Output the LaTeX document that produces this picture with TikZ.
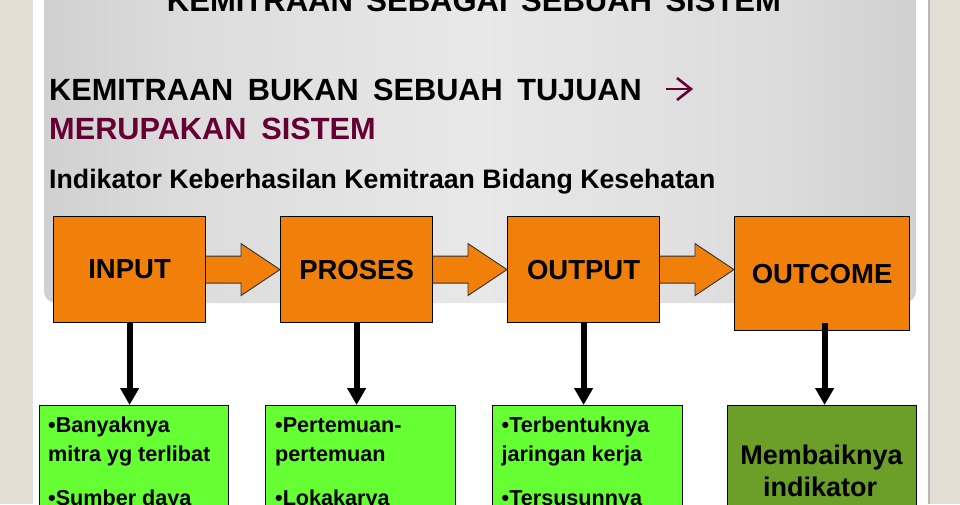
\documentclass[tikz,border=0pt]{standalone}
\usepackage{fontspec}
\setmainfont{Liberation Sans}
\usetikzlibrary{arrows.meta,calc}
\definecolor{beige}{RGB}{227,222,212}
\definecolor{maroon}{RGB}{102,0,51}
\definecolor{boxorange}{RGB}{240,128,10}
\definecolor{boxgreen}{RGB}{102,255,51}
\definecolor{boxolive}{RGB}{107,159,39}
\definecolor{pg0}{RGB}{168,168,168}
\definecolor{pg1}{RGB}{192,192,192}
\definecolor{pg2}{RGB}{220,220,220}
\definecolor{pg3}{RGB}{232,232,232}
\pgfdeclarehorizontalshading{panelshade}{100bp}{color(0bp)=(pg0); color(14bp)=(pg1); color(33bp)=(pg2); color(50bp)=(pg3); color(67bp)=(pg2); color(86bp)=(pg1); color(100bp)=(pg0)}
\newcommand\blockarr[2]{\path[barrow] ([yshift=13.5pt]#1) -- ([xshift=-39pt,yshift=13.5pt]#2) -- ([xshift=-39pt,yshift=26pt]#2) -- (#2) -- ([xshift=-39pt,yshift=-26pt]#2) -- ([xshift=-39pt,yshift=-13.5pt]#2) -- ([yshift=-13.5pt]#1);}
\begin{document}
\begin{tikzpicture}[x=1pt,y=-1pt,
  obox/.style={draw=black, line width=1.2pt, fill=boxorange, inner sep=0pt,
    font=\fontsize{27.5}{30}\selectfont\bfseries, anchor=north west},
  gbox/.style={draw=black, line width=1.2pt, fill=boxgreen, inner sep=0pt, anchor=north west},
  txt/.style={inner sep=0pt, anchor=base west},
  gtxt/.style={txt, font=\fontsize{21.6}{26}\selectfont\bfseries},
  barrow/.style={fill=boxorange, draw=black!80, line width=0.9pt, line join=miter},
  darrow/.style={draw=black, line width=6pt, -{Triangle[width=18pt,length=17pt]}}]
\useasboundingbox (0,0) rectangle (960,504);
\clip (0,0) rectangle (960,504);
% slide background
\fill[beige] (0,0) rectangle (960,504);
\fill[white] (33,0) rectangle (928,504);
\fill[black!12] (32,0) rectangle (33,504);
\fill[black!28] (928,0) rectangle (930,504);
% title panel
\shade[shading=panelshade, rounded corners=12pt] (44,-30) rectangle (916,303);
% titles
\node[txt, anchor=base, font=\fontsize{31}{34}\selectfont\bfseries] (t0) at (474,11)
  {\spaceskip=13.5pt\relax KEMITRAAN SEBAGAI SEBUAH SISTEM};
\node[txt, font=\fontsize{30.7}{34}\selectfont\bfseries] (t1) at (49,100)
  {\spaceskip=14.5pt\relax KEMITRAAN BUKAN SEBUAH TUJUAN};
\draw[maroon, line width=2.6pt] (666,89) -- (691,89);
\draw[maroon, line width=2.6pt, line join=miter] (677,78) -- (691,89) -- (677,100);
\node[txt, text=maroon, font=\fontsize{30.7}{34}\selectfont\bfseries] (t2) at (49,139)
  {\spaceskip=15pt\relax MERUPAKAN SISTEM};
\node[txt, font=\fontsize{26.7}{30}\selectfont\bfseries] (t3) at (49,188)
  {Indikator Keberhasilan Kemitraan Bidang Kesehatan};
% orange boxes
\node[obox, minimum width=152pt, minimum height=106pt] (inp) at (53,216) {INPUT};
\node[obox, minimum width=152pt, minimum height=106pt] (proc) at (280,216) {PROSES};
\node[obox, minimum width=152pt, minimum height=106pt] (outp) at (507,216) {OUTPUT};
\node[obox, minimum width=175pt, minimum height=114pt] (outc) at (734,216) {OUTCOME};
% block arrows
\coordinate (tip1) at (inp.east -| proc.west);
\coordinate (tip2) at (proc.east -| outp.west);
\coordinate (tip3) at (outp.east -| outc.west);
\blockarr{inp.east}{tip1}
\blockarr{proc.east}{tip2}
\blockarr{outp.east}{tip3}
% green boxes
\node[gbox, minimum width=189.5pt, minimum height=130pt] (g1) at (38.5,405) {};
\node[gbox, minimum width=190pt, minimum height=130pt] (g2) at (265,405) {};
\node[gbox, minimum width=190pt, minimum height=130pt] (g3) at (492,405) {};
\node[gbox, fill=boxolive, minimum width=189pt, minimum height=130pt] (g4) at (727,405) {};
% down arrows
\draw[darrow] (inp.south) -- (inp.south |- g1.north);
\draw[darrow] (proc.south) -- (proc.south |- g2.north);
\draw[darrow] (outp.south) -- (outp.south |- g3.north);
\coordinate (o4) at ([xshift=2.5pt,yshift=8pt]outc.south);
\draw[darrow] (o4) -- (o4 |- g4.north);
% green box texts
\node[gtxt] (g1a) at (48,432) {•Banyaknya};
\node[gtxt] (g1b) at (48,461) {mitra yg terlibat};
\node[gtxt] (g1c) at (48,505) {•Sumber daya};
\node[gtxt] (g2a) at (275,432) {•Pertemuan-};
\node[gtxt] (g2b) at (275,461) {pertemuan};
\node[gtxt] (g2c) at (275,505) {•Lokakarya};
\node[gtxt] (g3a) at (501.5,432) {•Terbentuknya};
\node[gtxt] (g3b) at (501.5,461) {jaringan kerja};
\node[gtxt] (g3c) at (501.5,505) {•Tersusunnya};
\node[txt, anchor=base, font=\fontsize{27}{32}\selectfont\bfseries] (g4a) at (821.5,464) {Membaiknya};
\node[txt, anchor=base, font=\fontsize{27}{32}\selectfont\bfseries] (g4b) at (820,496) {indikator};
\end{tikzpicture}
\end{document}
